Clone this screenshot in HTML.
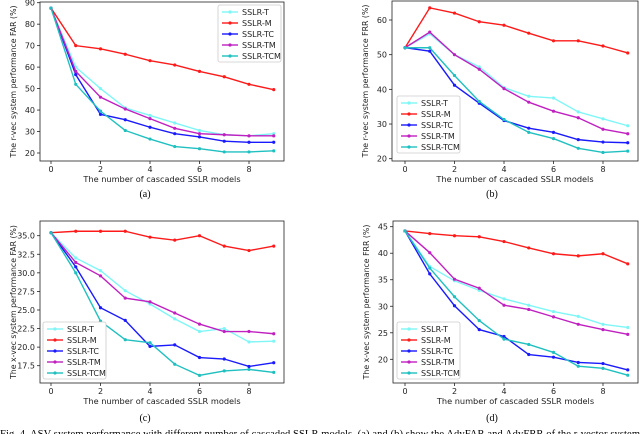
<!DOCTYPE html>
<html><head><meta charset="utf-8"><style>
body{margin:0;background:#fff;width:640px;height:434px;overflow:hidden}
svg{display:block}
text{font-family:"DejaVu Sans","Liberation Sans",sans-serif;fill:#222}
.cap{font-family:"Liberation Serif",serif;fill:#000}
</style></head><body>
<svg id="fig" width="640" height="434" viewBox="0 0 640 434"></svg>
<script>
const steps=[0,1,2,3,4,5,6,7,8,9];
const seriesNames=["SSLR-T","SSLR-M","SSLR-TC","SSLR-TM","SSLR-TCM"];
const seriesColors=["#7ff6f6","#ff1a1a","#1a1aff","#c020c0","#20c0c0"];
const xTicks=[0,2,4,6,8];
// panel a
const aT=[87.5,60,50,41,37.5,34,30.5,28.5,28,29];
const aM=[87.5,70,68.5,66,63,61,58,55.5,52,49.5];
const aTC=[87.5,56.5,38,35.5,32,29,27.5,25.5,25,25];
const aTM=[87.5,58,46,40.5,36,31.5,29,28.5,28,28];
const aTCM=[87.5,52,39.5,30.5,26.5,23,22,20.5,20.5,21];
const aTicks=[20,30,40,50,60,70,80,90];
// panel b
const bT=[52,56,50,46.5,40.5,38,37.5,33.5,31.5,29.5];
const bM=[52,63.5,62,59.5,58.5,56.2,54,54,52.5,50.5];
const bTC=[52,51,41.2,36,31,28.8,27.6,25.5,24.8,24.6];
const bTM=[52,56.5,50,45.8,40.2,36.3,33.7,31.8,28.5,27.2];
const bTCM=[52,52,44,36.5,31.3,27.6,25.8,23,21.8,22.2];
const bTicks=[20,30,40,50,60];
// panel c
const cT=[35.4,32,30.3,27.6,25.8,23.8,22.1,22.5,20.7,20.8];
const cM=[35.4,35.6,35.6,35.6,34.8,34.4,35,33.6,33,33.6];
const cTC=[35.4,30.8,25.3,23.6,20.1,20.3,18.6,18.4,17.4,17.9];
const cTM=[35.4,31.4,29.6,26.6,26.1,24.6,23.1,22.1,22.1,21.8];
const cTCM=[35.4,30,23.5,21,20.6,17.7,16.2,16.8,17,16.6];
const cTicks=[17.5,20.0,22.5,25.0,27.5,30.0,32.5,35.0];
// panel d
const dT=[44.2,37.5,34.8,33,31.4,30.2,29,28.1,26.6,26];
const dM=[44.2,43.7,43.3,43.1,42.2,41,39.9,39.5,39.9,38];
const dTC=[44.2,36.1,30.1,25.6,24.3,20.9,20.4,19.4,19.2,18];
const dTM=[44.2,40.1,35.1,33.4,30.2,29.4,28,26.6,25.6,24.7];
const dTCM=[44.2,37.2,31.8,27.3,23.8,22.8,21.3,18.7,18.3,17];
const dTicks=[20,25,30,35,40,45];

const NS="http://www.w3.org/2000/svg";
const svg=document.getElementById('fig');
function el(tag,attrs,parent,txt){const e=document.createElementNS(NS,tag);for(const k in attrs)e.setAttribute(k,attrs[k]);if(txt!=null)e.textContent=txt;(parent||svg).appendChild(e);return e;}

const panels=[
 {id:"a",box:[40,2,284,161],x0:51,x8:249,yA:[90,2.7],yB:[20,153],ticks:aTicks,fmt:v=>String(v),data:[aT,aM,aTC,aTM,aTCM],ylab:"The r-vec system performance FAR (%)",leg:[218,5],cap:[145,197]},
 {id:"b",box:[392,1,638,161],x0:405,x8:603,yA:[60,20],yB:[20,158.7],ticks:bTicks,fmt:v=>String(v),data:[bT,bM,bTC,bTM,bTCM],ylab:"The r-vec system performance FRR (%)",leg:[397,96],cap:[492,197]},
 {id:"c",box:[40,221,284,383],x0:51,x8:249,yA:[35,235.7],yB:[17.5,365.7],ticks:cTicks,fmt:v=>v.toFixed(1),data:[cT,cM,cTC,cTM,cTCM],ylab:"The x-vec system performance FAR (%)",leg:[43,322],cap:[145,421]},
 {id:"d",box:[393,221,638,383],x0:405,x8:603,yA:[45,226.7],yB:[20,359.3],ticks:dTicks,fmt:v=>String(v),data:[dT,dM,dTC,dTM,dTCM],ylab:"The x-vec system performance FRR (%)",leg:[397,322],cap:[492,421]}
];

panels.forEach(p=>{
 const g=el('g',{});
 
 
 const xs=v=>p.x0+(p.x8-p.x0)*v/8;
 const ys=v=>p.yB[1]+(v-p.yB[0])*(p.yA[1]-p.yB[1])/(p.yA[0]-p.yB[0]);
 const [l,t,r,b]=p.box;
 const frame=el('rect',{x:l,y:t,width:r-l,height:b-t,fill:'none',stroke:'#222','stroke-width':0.8},g);
 
 
 xTicks.forEach(v=>{
  el('line',{x1:xs(v),x2:xs(v),y1:b,y2:b+3,stroke:'#222','stroke-width':0.8},g);
  const tx=el('text',{x:xs(v),y:b+11,'font-size':8,'text-anchor':'middle'},g,String(v));
  
  
 });
 p.ticks.forEach(v=>{
  el('line',{x1:l-3,x2:l,y1:ys(v),y2:ys(v),stroke:'#222','stroke-width':0.8},g);
  const ty=el('text',{x:l-5,y:ys(v)+3,'font-size':8,'text-anchor':'end'},g,p.fmt(v));
  
  
 });
 const xl=el('text',{x:(l+r)/2,y:b+21,'font-size':8.2,'text-anchor':'middle'},g,"The number of cascaded SSLR models");
 
 
 const cy=(t+b)/2, cx=l-24;
 const yl=el('text',{x:cx,y:cy,'font-size':7.8,'text-anchor':'middle',transform:`rotate(-90 ${cx} ${cy})`},g,p.ylab);
 
 
 p.data.forEach((arr,si)=>{
  const pts=arr.map((v,i)=>xs(steps[i])+','+ys(v)).join(' ');
  const pl=el('polyline',{points:pts,fill:'none',stroke:seriesColors[si],'stroke-width':1.4},g);
  
  
  arr.forEach((v,i)=>{
   const m=el('circle',{cx:xs(steps[i]),cy:ys(v),r:1.6,fill:seriesColors[si]},g);
   
   
  });
 });
 const [lx,ly]=p.leg;
 const lg=el('g',{},g);
 
 
 el('rect',{x:lx,y:ly,width:63,height:57,fill:'#fff',stroke:'#ccc','stroke-width':0.8,rx:2},lg);
 seriesNames.forEach((n,si)=>{
  const yy=ly+7+si*11;
  el('line',{x1:lx+4,x2:lx+20,y1:yy,y2:yy,stroke:seriesColors[si],'stroke-width':1.4},lg);
  el('circle',{cx:lx+12,cy:yy,r:1.6,fill:seriesColors[si]},lg);
  const lt=el('text',{x:lx+24,y:yy+3,'font-size':8},lg,n);
  
  
 });
 const cp=el('text',{x:p.cap[0],y:p.cap[1],'font-size':10,'text-anchor':'middle','class':'cap'},g,'('+p.id+')');
 
 
});
const fc=el('text',{x:0,y:437,'font-size':10.5,'class':'cap',textLength:640,lengthAdjust:'spacing'},svg,"Fig. 4.  ASV system performance with different number of cascaded SSLR models. (a) and (b) show the AdvFAR and AdvFRR of the r-vector system");


</script>
</body></html>
